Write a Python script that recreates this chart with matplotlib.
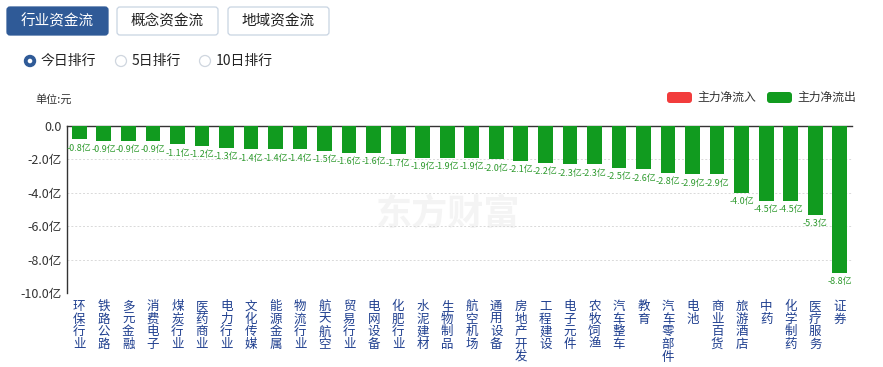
import matplotlib
matplotlib.use("Agg")
import matplotlib.pyplot as plt
from matplotlib.patches import FancyBboxPatch, Circle

plt.rcParams['font.family'] = ['Noto Sans CJK SC', 'DejaVu Sans']

# 行业资金流 今日排行（单位：亿元）
industries = ['环保行业', '铁路公路', '多元金融', '消费电子', '煤炭行业', '医药商业', '电力行业',
              '文化传媒', '能源金属', '物流行业', '航天航空', '贸易行业', '电网设备', '化肥行业',
              '水泥建材', '生物制品', '航空机场', '通用设备', '房地产开发', '工程建设', '电子元件',
              '农牧饲渔', '汽车整车', '教育', '汽车零部件', '电池', '商业百货', '旅游酒店',
              '中药', '化学制药', '医疗服务', '证券']
net_flow = [-0.8, -0.9, -0.9, -0.9, -1.1, -1.2, -1.3, -1.4, -1.4, -1.4, -1.5, -1.6, -1.6, -1.7,
            -1.9, -1.9, -1.9, -2.0, -2.1, -2.2, -2.3, -2.3, -2.5, -2.6, -2.8, -2.9, -2.9,
            -4.0, -4.5, -4.5, -5.3, -8.8]
y_ticks = [0, -2, -4, -6, -8, -10]
y_tick_labels = ['0.0', '-2.0亿', '-4.0亿', '-6.0亿', '-8.0亿', '-10.0亿']

W, H = 883, 367
fig = plt.figure(figsize=(W / 100, H / 100), dpi=100)
fig.patch.set_facecolor('white')

# 顶部控件层（像素坐标）
ui = fig.add_axes([0, 0, 1, 1])
ui.set_xlim(0, W)
ui.set_ylim(H, 0)
ui.axis('off')

blue = '#2f5a97'
green = '#119b1f'
red = '#f23c3c'

buttons = [('行业资金流', 7, True), ('概念资金流', 117, False), ('地域资金流', 228, False)]
for text, x0, active in buttons:
    box = FancyBboxPatch((x0, 7), 101, 28, boxstyle='round,pad=0,rounding_size=3',
                         facecolor=blue if active else 'white',
                         edgecolor=blue if active else '#c8d4e2', linewidth=0.9)
    ui.add_patch(box)
    ui.text(x0 + 50.5, 21.5, text, ha='center', va='center', fontsize=10.5,
            color='white' if active else '#222222')

radios = [('今日排行', 30, True), ('5日排行', 121, False), ('10日排行', 205, False)]
for text, cx, active in radios:
    if active:
        ui.add_patch(Circle((cx, 61), 5.5, facecolor=blue, edgecolor=blue))
        ui.add_patch(Circle((cx, 61), 2.3, facecolor='white', edgecolor='none'))
    else:
        ui.add_patch(Circle((cx, 61), 5.5, facecolor='white', edgecolor='#cfd6df', linewidth=0.9))
    ui.text(cx + 11, 61, text, ha='left', va='center', fontsize=10, color='#222222')

ui.text(35, 99, '单位:元', ha='left', va='center', fontsize=8, color='#333333')

for label, x0, c in [('主力净流入', 667, red), ('主力净流出', 767, green)]:
    ui.add_patch(FancyBboxPatch((x0, 92), 25, 11, boxstyle='round,pad=0,rounding_size=3',
                                facecolor=c, edgecolor='none'))
    ui.text(x0 + 30, 97.5, label, ha='left', va='center', fontsize=8.5, color='#333333')

# 水印
ui.text(448, 214, '东方财富', ha='center', va='center', fontsize=26, fontweight='bold',
        color='#f4f4f4', zorder=0)

# 柱状图
left, right, top, bottom = 67, 852, 126, 293
ax = fig.add_axes([left / W, (H - bottom) / H, (right - left) / W, (bottom - top) / H])
ax.patch.set_alpha(0)

x = range(len(industries))
ax.bar(x, net_flow, width=0.6, color=green, zorder=3)

for i, v in enumerate(net_flow):
    ax.annotate(f'{v:.1f}亿', (i, v), xytext=(0, -3), textcoords='offset points',
                ha='center', va='top', fontsize=6.5, color='#2e9a2e')

ax.set_xlim(-0.5, len(industries) - 0.5)
ax.set_ylim(-10, 0)
ax.set_yticks(y_ticks)
ax.set_yticklabels(y_tick_labels, fontsize=9, color='#333333')
ax.set_xticks(list(x))
ax.set_xticklabels(['\n'.join(n) for n in industries], fontsize=9, color='#1f3f8f',
                   va='top', linespacing=0.97)
ax.tick_params(axis='x', length=0, pad=5)
ax.tick_params(axis='y', length=0, pad=4)

for t in y_ticks[1:]:
    ax.axhline(t, color='#d9d9d9', linestyle=(0, (2, 2)), linewidth=0.7, zorder=1)

ax.spines['right'].set_visible(False)
ax.spines['bottom'].set_visible(False)
ax.spines['top'].set_color('#333333')
ax.spines['top'].set_linewidth(1)
ax.spines['left'].set_color('#333333')
ax.spines['left'].set_linewidth(1)

fig.savefig('out.png', dpi=100)
